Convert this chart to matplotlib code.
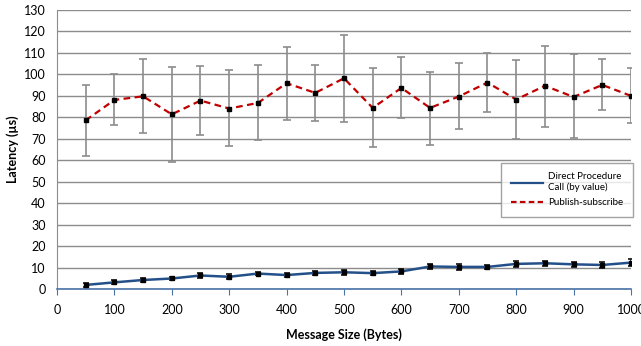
import numpy as np
import matplotlib
matplotlib.use("Agg")
import matplotlib.pyplot as plt
from matplotlib.lines import Line2D

plt.rcParams['font.family'] = ['Lato', 'DejaVu Sans']

# message sizes (bytes)
sizes = [50, 100, 150, 200, 250, 300, 350, 400, 450, 500,
         550, 600, 650, 700, 750, 800, 850, 900, 950, 1000]

# direct procedure call (by value) - mean latency and error
direct_mean = [1.9, 3.1, 4.2, 4.9, 6.3, 5.7, 7.2, 6.5, 7.5, 7.8,
               7.4, 8.2, 10.5, 10.3, 10.3, 11.7, 12.0, 11.5, 11.2, 12.3]
direct_err = [0.9, 0.9, 1.0, 0.9, 1.0, 1.1, 0.9, 0.9, 1.0, 1.1,
              0.9, 1.0, 1.0, 1.5, 1.0, 1.4, 1.2, 1.1, 1.4, 1.6]

# publish-subscribe - mean latency, upper and lower error bar ends
pubsub_mean = [78.6, 88.1, 89.8, 81.4, 87.8, 84.1, 86.7, 95.9, 91.4, 98.2,
               84.4, 93.7, 84.4, 89.7, 96.2, 88.3, 94.7, 89.5, 95.1, 90.0]
pubsub_top = [95.2, 100.0, 107.1, 103.6, 103.9, 101.9, 104.3, 113.0, 104.3, 118.3,
              102.8, 108.0, 101.2, 105.4, 109.8, 106.5, 113.3, 109.6, 107.0, 102.9]
pubsub_bot = [62.1, 76.2, 72.6, 59.4, 71.9, 66.6, 69.3, 78.8, 78.4, 77.9,
              66.4, 79.7, 67.3, 74.6, 82.5, 69.8, 75.6, 70.4, 83.3, 77.4]

labels = ['Direct Procedure\nCall (by value)', 'Publish-subscribe']

x = np.array(sizes)
pm = np.array(pubsub_mean)
yerr_ps = [pm - np.array(pubsub_bot), np.array(pubsub_top) - pm]

fig = plt.figure(figsize=(6.41, 3.46), dpi=100)
ax = fig.add_axes([0.0889, 0.1647, 0.8955, 0.8063])

blue = '#24508a'
red = '#c00000'

ax.errorbar(x, direct_mean, yerr=direct_err, color=blue, lw=1.8,
            ecolor='#111111', elinewidth=1.2, capsize=2.5, capthick=1.2,
            marker='s', ms=2.2, mfc='black', mec='black', zorder=3)
ax.errorbar(x, pubsub_mean, yerr=yerr_ps, color=red, lw=1.6, ls=(0, (3, 2)),
            ecolor='#8c8c8c', elinewidth=1.2, capsize=3, capthick=1.2,
            marker='s', ms=2.2, mfc='black', mec='black', zorder=3)

ax.set_xlim(0, 1000)
ax.set_ylim(0, 130)
ax.set_xticks(range(0, 1001, 100))
ax.set_yticks(range(0, 131, 10))
ax.yaxis.grid(True, color='#8c8c8c', lw=1)
ax.set_axisbelow(True)

for s in ['top', 'right']:
    ax.spines[s].set_visible(False)
ax.spines['left'].set_color('#8c8c8c')
ax.spines['bottom'].set_color('#4a73a8')
ax.spines['bottom'].set_linewidth(1.2)
ax.tick_params(axis='x', direction='out', length=4, color='#4a73a8',
               labelsize=9, pad=7)
ax.tick_params(axis='y', length=0, labelsize=9, pad=8)

ax.set_xlabel('Message Size (Bytes)', fontweight='bold', fontsize=9, labelpad=9)
ax.set_ylabel('Latency (µs)', fontweight='bold', fontsize=9, labelpad=4)

h = [Line2D([], [], color=blue, lw=1.6),
     Line2D([], [], color=red, lw=1.6, ls=(0, (2.5, 1.5)))]
leg = ax.legend(h, labels, loc='lower right', bbox_to_anchor=(1.003, 0.258),
                borderaxespad=0, fontsize=7, frameon=True, fancybox=False,
                edgecolor='#8c8c8c', handlelength=3.3, handletextpad=0.5,
                borderpad=1.0, labelspacing=0.6)
leg.get_frame().set_linewidth(1)
leg.set_zorder(5)

fig.savefig('out.png', dpi=100)
